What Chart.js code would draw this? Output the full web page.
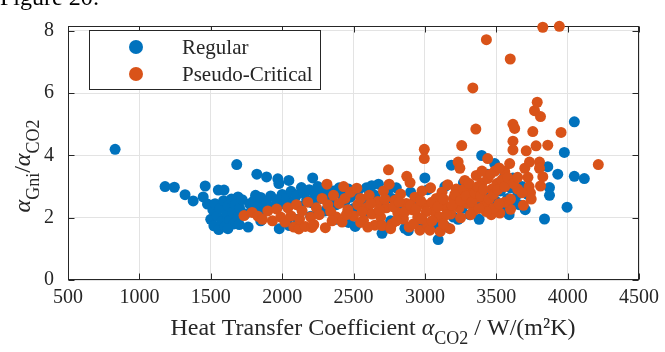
<!DOCTYPE html>
<html>
<head>
<meta charset="utf-8">
<script src="https://cdn.jsdelivr.net/npm/chart.js@4"></script>
<style>
html, body { margin: 0; padding: 0; background: #fff; overflow: hidden; }
#wrap { position: relative; width: 665px; height: 352px; }
#fig { position: absolute; left: 0; top: -15px; font: 24px/24px 'Liberation Serif', serif; color: #000; }
canvas { position: absolute; left: 0; top: 0; }
</style>
</head>
<body>
<div id="wrap">
<canvas id="scatter_chart" width="665" height="352"></canvas>
<div id="fig">Figure 20:</div>
</div>
<script>
// values
var xTicks = [500, 1000, 1500, 2000, 2500, 3000, 3500, 4000, 4500];
var yTicks = [0, 2, 4, 6, 8];

var regularX = [830, 1180, 1245, 1320, 1377, 1461, 1447, 1477, 1553, 1593, 1682, 1691, 1814, 1823, 1891, 1970, 2047, 1977, 2135, 2214,
	1500, 1515, 1522, 1530, 1545, 1556, 1565, 1578, 1590, 1600, 1612, 1622, 1632, 1645, 1652, 1662, 1672, 1690, 1702, 1720,
	1742, 1762, 1772, 1790, 1802, 1832, 1850, 1870, 1890, 1920, 1942, 1960, 1980, 2000, 2012, 2030, 2050, 2062, 2080, 2100,
	2122, 2150, 2172, 2190, 2210, 2232, 2250, 2270, 2290, 2300, 2322, 2340, 2362, 2380, 2400, 2420, 2440, 2465, 2465, 2480,
	2512, 2500, 2530, 2560, 2590, 2628, 2675, 2650, 2700, 2710, 2740, 2770, 2800, 2830, 2860, 2884, 2900, 2930, 2960, 3000,
	3020, 3050, 3070, 3093, 3110, 3140, 3170, 3186, 3200, 3233, 3240, 3270, 3300, 3314, 3340, 3380, 3398, 3420, 3440, 3460,
	3489, 3500, 3512, 3530, 3550, 3559, 3580, 3600, 3617, 3630, 3652, 3660, 3680, 3703, 3720, 3838, 3861, 3873, 3873, 3931,
	3977, 3996, 4047, 4047, 4117, 1620, 1700, 1850, 2110, 2200, 2380, 2600, 2760, 3150, 3260, 3360, 3470, 3590];
var regularY = [4.2, 3.0, 2.98, 2.74, 2.54, 3.02, 2.67, 2.44, 2.89, 2.89, 3.71, 2.67, 2.72, 3.4, 3.31, 3.25, 3.2, 3.1, 2.97, 3.28,
	1.95, 2.25, 1.74, 2.45, 2.05, 1.62, 2.3, 1.88, 2.55, 1.72, 2.12, 2.38, 1.92, 2.6, 2.18, 1.8, 2.42, 2.02, 2.3, 2.58,
	2.12, 1.7, 2.45, 2.28, 2.55, 2.38, 2.65, 2.2, 2.48, 2.7, 2.35, 2.58, 1.65, 2.75, 2.45, 2.62, 1.75, 2.85, 2.52, 2.72,
	2.38, 2.8, 2.58, 2.9, 2.48, 2.72, 3.0, 2.62, 2.82, 2.22, 2.92, 2.62, 2.86, 2.42, 2.96, 2.72, 2.52, 1.85, 2.92, 2.66,
	1.72, 2.3, 2.86, 2.56, 2.96, 3.03, 3.08, 2.72, 1.5, 2.42, 2.86, 2.62, 2.96, 2.22, 1.66, 1.59, 2.82, 2.52, 1.76, 3.28,
	2.9, 1.86, 1.8, 1.3, 2.62, 3.0, 2.22, 3.69, 2.02, 1.95, 2.72, 3.12, 2.52, 2.1, 2.9, 1.95, 4.0, 2.42, 3.4, 2.72,
	3.74, 2.52, 3.1, 2.86, 2.32, 3.34, 2.62, 2.96, 3.28, 2.52, 2.77, 2.42, 3.0, 2.26, 2.75, 1.96, 3.64, 2.97, 2.72, 3.4,
	4.1, 2.34, 5.08, 3.33, 3.26, 1.65, 1.78, 1.9, 1.95, 2.05, 1.95, 2.2, 1.9, 1.7, 2.3, 2.6, 2.2, 2.1];

var pseudoX = [1733, 1790, 1830, 1862, 1900, 1932, 1962, 1990, 2020, 2040, 2062, 2082, 2100, 2117, 2122, 2140, 2162, 2180, 2200, 2208,
	2222, 2240, 2260, 2280, 2303, 2314, 2320, 2340, 2360, 2380, 2400, 2420, 2431, 2440, 2460, 2480, 2500, 2523, 2530, 2550,
	2570, 2590, 2610, 2630, 2650, 2670, 2690, 2710, 2730, 2745, 2750, 2770, 2790, 2810, 2830, 2850, 2873, 2870, 2896, 2890,
	2910, 2930, 2950, 2965, 2980, 2996, 2996, 3000, 3020, 3035, 3040, 3060, 3080, 3100, 3107, 3120, 3140, 3160, 3175, 3180,
	3200, 3220, 3233, 3245, 3240, 3258, 3260, 3280, 3300, 3320, 3336, 3340, 3357, 3360, 3380, 3400, 3420, 3431, 3440, 3465,
	3470, 3490, 3505, 3525, 3540, 3559, 3594, 3598, 3600, 3617, 3629, 3617, 3617, 3650, 3700, 3710, 3733, 3722, 3730, 3740,
	3745, 3756, 3768, 3787, 3810, 3779, 3803, 3803, 3826, 3810, 3826, 3942, 3861, 3954, 4215,
	2350, 2450, 2560, 2620, 2680, 2720, 2780, 2820, 2860, 2900, 2940, 2970, 3010, 3050, 3090, 3130, 3150, 3190, 3210, 3250,
	3270, 3290, 3310, 3330, 3350, 3370, 3390, 3410, 3450, 3480, 3510, 3560, 3580, 3620, 3560, 3480, 3430, 3400, 3520, 3460,
	2550, 2600, 2700, 2760, 2800, 2920, 2980, 3050, 3130, 3250, 3320, 3380, 3520, 3600, 3680, 3650, 3690, 3440];
var pseudoY = [2.07, 2.17, 2.05, 1.95, 2.22, 1.9, 2.28, 2.02, 1.86, 2.32, 2.06, 1.7, 2.42, 1.64, 1.96, 2.22, 1.72, 2.5, 2.02, 1.69,
	1.78, 2.32, 2.1, 2.62, 1.68, 3.08, 2.42, 2.2, 2.72, 2.02, 2.46, 1.86, 3.0, 2.62, 2.26, 2.82, 2.06, 2.95, 2.42, 2.62,
	1.92, 2.32, 2.72, 2.12, 1.76, 2.52, 2.02, 2.86, 2.32, 3.54, 3.08, 1.8, 2.56, 2.16, 2.76, 1.96, 3.33, 2.46, 3.13, 1.7,
	2.26, 2.66, 2.02, 1.6, 2.86, 4.2, 3.9, 2.42, 1.76, 1.6, 2.96, 2.22, 2.62, 2.02, 1.56, 2.82, 2.36, 3.06, 1.65, 2.12,
	2.62, 2.92, 3.79, 3.59, 2.32, 4.32, 2.76, 3.2, 2.46, 2.96, 6.17, 2.22, 4.85, 3.36, 2.66, 3.12, 2.42, 7.72, 3.26, 2.1,
	2.92, 3.5, 3.1, 2.15, 3.22, 3.49, 3.74, 7.1, 2.27, 5.0, 4.87, 4.46, 4.18, 2.92, 3.59, 4.15, 3.79, 3.3, 3.0, 2.8,
	2.6, 4.77, 5.44, 5.71, 5.25, 4.31, 3.79, 3.59, 3.32, 3.02, 8.12, 8.15, 4.33, 4.74, 3.71,
	1.9, 2.1, 2.2, 2.45, 2.25, 2.6, 2.35, 2.5, 2.2, 2.4, 2.3, 2.55, 2.2, 2.5, 2.35, 2.6, 2.1, 2.4, 2.75, 2.55,
	2.9, 2.7, 3.1, 2.5, 2.8, 3.0, 2.7, 2.9, 2.6, 2.75, 2.9, 3.0, 3.3, 3.1, 2.5, 2.3, 2.2, 3.5, 3.6, 3.4,
	1.85, 1.7, 1.75, 1.65, 1.9, 1.8, 1.95, 1.9, 1.8, 2.0, 2.1, 2.3, 2.45, 2.6, 2.8, 3.3, 2.4, 3.9];

var blue = '#0072BD';
var orange = '#D95319';
var axisColor = '#262626';
var serif = "'Liberation Serif', 'Times New Roman', serif";

function toPoints(xs, ys){
	var pts = [];
	for(var i=0; i<xs.length; i++){
		pts.push({x: xs[i], y: ys[i]});
	}
	return pts;
}

// draws text with italic / subscript pieces, returns width
function richText(c, parts, x, y, measureOnly){
	var w = 0;
	parts.forEach(function(p){
		c.font = (p.it ? 'italic ' : '') + (p.sub ? 18 : 24) + 'px ' + serif;
		if(!measureOnly) c.fillText(p.t, x + w, y + (p.sub ? 9 : 0));
		w += c.measureText(p.t).width;
	});
	return w;
}

var xTitle = [{t: 'Heat Transfer Coefficient '}, {t: 'α', it: true}, {t: 'CO2', sub: true}, {t: ' / W/(m²K)'}];
var yTitle = [{t: 'α', it: true}, {t: 'Gni', sub: true}, {t: '/'}, {t: 'α', it: true}, {t: 'CO2', sub: true}];

var framePlugin = {
	id: 'frame',
	beforeDatasetsDraw: function(chart){
		var c = chart.ctx, a = chart.chartArea;
		var sx = chart.scales.x, sy = chart.scales.y;
		var l = Math.round(a.left) + 0.5, r = Math.round(a.right) - 0.5;
		var t = Math.round(a.top) + 0.5, b = Math.round(a.bottom) - 0.5;
		c.save();
		c.strokeStyle = axisColor;
		c.lineWidth = 1;
		c.strokeRect(l, t, r - l, b - t);
		c.beginPath();
		xTicks.forEach(function(v){
			var px = Math.round(sx.getPixelForValue(v)) + 0.5;
			c.moveTo(px, b); c.lineTo(px, b - 6);
			c.moveTo(px, t); c.lineTo(px, t + 6);
		});
		yTicks.forEach(function(v){
			var py = Math.round(sy.getPixelForValue(v)) + 0.5;
			c.moveTo(l, py); c.lineTo(l + 6, py);
			c.moveTo(r, py); c.lineTo(r - 6, py);
		});
		c.stroke();
		c.restore();
	},
	afterDraw: function(chart){
		var c = chart.ctx;
		c.save();
		c.fillStyle = axisColor;
		c.textBaseline = 'alphabetic';
		c.textAlign = 'left';
		// x title
		var w = richText(c, xTitle, 0, 0, true);
		richText(c, xTitle, 373 - w / 2, 335);
		// y title
		c.save();
		c.translate(30, 166);
		c.rotate(-Math.PI / 2);
		w = richText(c, yTitle, 0, 0, true);
		richText(c, yTitle, -w / 2, 0);
		c.restore();
		// legend box
		c.fillStyle = '#fff';
		c.fillRect(89.5, 30.5, 231, 59);
		c.strokeStyle = axisColor;
		c.lineWidth = 1;
		c.strokeRect(89.5, 30.5, 231, 59);
		chart.data.datasets.forEach(function(ds, i){
			var y = 47 + i * 27;
			c.beginPath();
			c.arc(136, y, 7, 0, Math.PI * 2);
			c.fillStyle = ds.backgroundColor;
			c.fill();
			c.fillStyle = axisColor;
			c.font = '21px ' + serif;
			c.textBaseline = 'middle';
			c.fillText(ds.label, 182, y + 1);
		});
		c.restore();
	}
};

var ctx = document.getElementById('scatter_chart');
var myChart = new Chart(ctx, {
	type: 'scatter',
	data: {
		datasets: [{
			label: 'Regular',
			data: toPoints(regularX, regularY),
			backgroundColor: blue,
			borderWidth: 0,
			pointRadius: 5.5,
			pointHoverRadius: 5.5,
			order: 2,
			clip: false
		}, {
			label: 'Pseudo-Critical',
			data: toPoints(pseudoX, pseudoY),
			backgroundColor: orange,
			borderWidth: 0,
			pointRadius: 5.5,
			pointHoverRadius: 5.5,
			order: 1,
			clip: false
		}]
	},
	options: {
		responsive: false,
		animation: false,
		events: [],
		layout: {padding: {left: 0, top: 15, right: 23, bottom: 42}},
		plugins: {legend: {display: false}, tooltip: {enabled: false}},
		scales: {
			x: {
				type: 'linear',
				min: 500,
				max: 4500,
				afterBuildTicks: function(s){ s.ticks = xTicks.map(function(v){ return {value: v}; }); },
				afterFit: function(s){ s.height = 30; },
				ticks: {padding: 6, maxRotation: 0, color: axisColor, font: {family: serif, size: 20},
					callback: function(v){ return String(v); }},
				grid: {color: '#e3e3e3', drawTicks: false},
				border: {display: false}
			},
			y: {
				min: 0,
				max: 8.16,
				afterBuildTicks: function(s){ s.ticks = yTicks.map(function(v){ return {value: v}; }); },
				afterFit: function(s){ s.width = 68; },
				ticks: {padding: 14, color: axisColor, font: {family: serif, size: 20},
					callback: function(v){ return String(v); }},
				grid: {color: '#e3e3e3', drawTicks: false},
				border: {display: false}
			}
		}
	},
	plugins: [framePlugin]
});
</script>
</body>
</html>
